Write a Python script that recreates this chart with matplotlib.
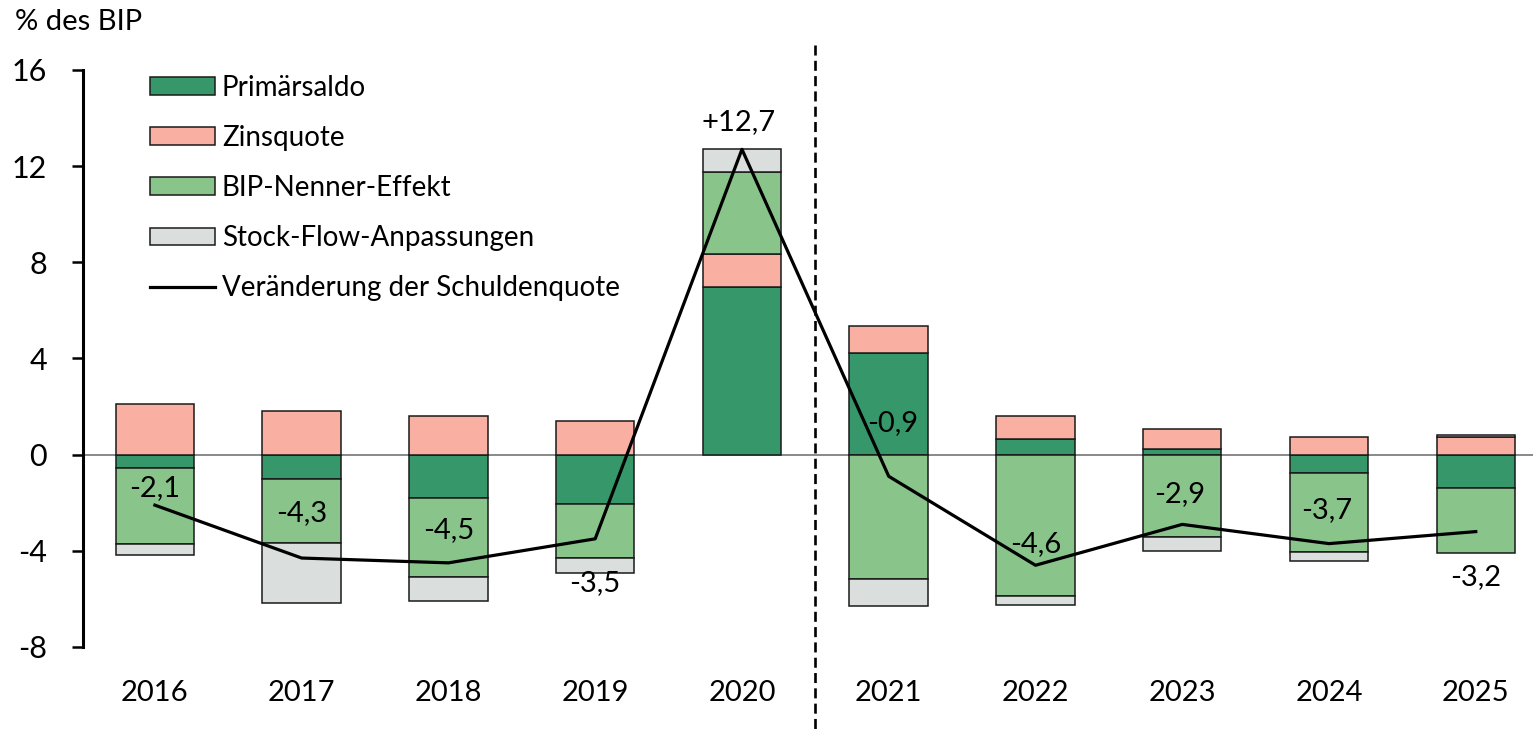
import numpy as np
import matplotlib
matplotlib.use("Agg")
import matplotlib.pyplot as plt
from matplotlib.patches import Patch
from matplotlib.lines import Line2D

plt.rcParams.update({
    "font.family": ["Lato", "DejaVu Sans"],
    "axes.spines.top": False,
    "axes.spines.right": False,
    "axes.spines.bottom": False,
})

# Daten (% des BIP)
years = ["2016", "2017", "2018", "2019", "2020", "2021", "2022", "2023", "2024", "2025"]
primaersaldo = [-0.54, -1.03, -1.82, -2.06, 6.98, 4.21, 0.66, 0.22, -0.76, -1.38]
zinsquote = [2.10, 1.82, 1.61, 1.39, 1.35, 1.16, 0.94, 0.83, 0.72, 0.73]
bip_nenner = [-3.16, -2.66, -3.26, -2.23, 3.41, -5.19, -5.88, -3.41, -3.27, -2.70]
stock_flow = [-0.46, -2.49, -1.01, -0.63, 0.96, -1.11, -0.36, -0.59, -0.39, 0.07]
schuldenquote = [-2.1, -4.3, -4.5, -3.5, 12.7, -0.9, -4.6, -2.9, -3.7, -3.2]

# label offsets relative to line points (pixels)
label_dy = [17, 45, 33, -44, 27, 53, 21, 30, 34, -45]
label_dx = [0, 0, 0, 0, -3, 4, 0, -3, -2, 0]

C_PRIM = "#36976A"
C_ZINS = "#F9AFA2"
C_BIP = "#89C48B"
C_SFA = "#DADEDD"
EDGE = "#1a1a1a"

fig = plt.figure(figsize=(15.33, 7.33), dpi=100)
ax = fig.add_axes([83 / 1533, 1 - 647 / 733, 1450 / 1533, 577 / 733])

x = np.arange(len(years))
width = 0.535
pos_bottom = np.zeros(len(years))
neg_bottom = np.zeros(len(years))
series = [(primaersaldo, C_PRIM, "Primärsaldo"),
          (zinsquote, C_ZINS, "Zinsquote"),
          (bip_nenner, C_BIP, "BIP-Nenner-Effekt"),
          (stock_flow, C_SFA, "Stock-Flow-Anpassungen")]
for vals, col, lab in series:
    v = np.array(vals)
    bottom = np.where(v >= 0, pos_bottom, neg_bottom)
    ax.bar(x, v, width, bottom=bottom, color=col, edgecolor=EDGE, linewidth=1.1, zorder=3)
    pos_bottom = pos_bottom + np.where(v >= 0, v, 0)
    neg_bottom = neg_bottom + np.where(v < 0, v, 0)

ax.axhline(0, color="#808080", linewidth=1.3, zorder=2)
ax.plot(x, schuldenquote, color="black", linewidth=2.3, zorder=5)

for i, val in enumerate(schuldenquote):
    txt = (f"+{val:.1f}" if val > 0 else f"{val:.1f}").replace(".", ",")
    ax.annotate(txt, (x[i], val), xytext=(label_dx[i], label_dy[i]),
                textcoords="offset pixels", ha="center", va="center",
                fontsize=21, zorder=6)

# dashed separator between 2020 and 2021
ax.plot([4.5, 4.5], [17.05, -11.6], color="black", linestyle=(0, (3.8, 2.0)),
        linewidth=1.9, clip_on=False, zorder=4)

ax.set_xlim(-0.49, 9.39)
ax.set_ylim(-8, 16)
ax.set_yticks(np.arange(-8, 17, 4))
ax.set_yticklabels([str(t) for t in np.arange(-8, 17, 4)], fontsize=22)
ax.set_xticks(x)
ax.set_xticklabels(years, fontsize=21)
ax.tick_params(axis="x", length=0, pad=24)
ax.tick_params(axis="y", length=8, width=1.8, pad=18)
ax.spines["left"].set_linewidth(2.2)

handles = [Patch(facecolor=c, edgecolor=EDGE, linewidth=1.1, label=l) for _, c, l in series]
handles.append(Line2D([0], [0], color="black", linewidth=2.3, label="Veränderung der Schuldenquote"))
ax.legend(handles=handles, loc="upper left", bbox_to_anchor=(0.046, 0.992),
          frameon=False, fontsize=20, handlelength=2.35, handleheight=0.6,
          labelspacing=0.87, handletextpad=0.25, borderpad=0, borderaxespad=0)

fig.text(15 / 1533, 1 - 22 / 733, "% des BIP", fontsize=21, ha="left", va="center")

fig.savefig("out.png", dpi=100)
